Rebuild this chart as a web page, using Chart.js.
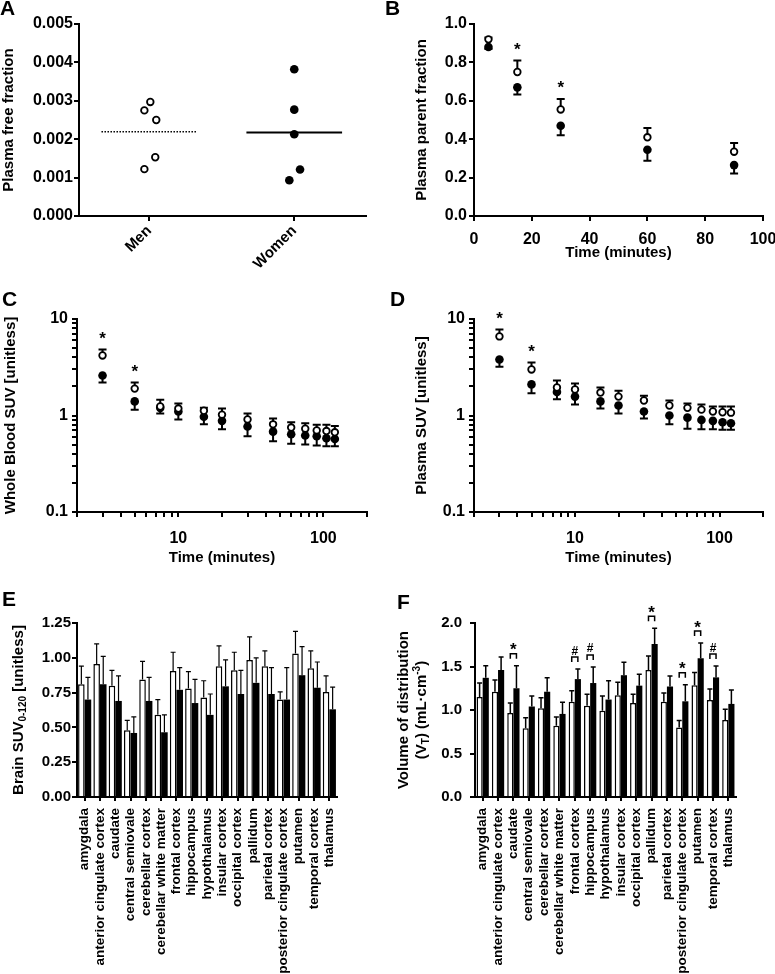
<!DOCTYPE html>
<html>
<head>
<meta charset="utf-8">
<script src="https://cdn.jsdelivr.net/npm/chart.js@4.4.1/dist/chart.umd.min.js"></script>
<style>
  html, body { margin: 0; padding: 0; background: #fff; overflow: hidden; }
  #fig { position: relative; width: 775px; height: 974px; }
  canvas { position: absolute; }
  .lbl { position: absolute; font: bold 21px "Liberation Sans", Arial, sans-serif; line-height: 1; }
</style>
</head>
<body>
<div id="fig">
  <canvas id="cA" width="385" height="300" style="left:0;top:0"></canvas>
  <canvas id="cB" width="390" height="300" style="left:385px;top:0"></canvas>
  <canvas id="cC" width="385" height="290" style="left:0;top:300px"></canvas>
  <canvas id="cD" width="390" height="290" style="left:385px;top:300px"></canvas>
  <canvas id="cE" width="385" height="384" style="left:0;top:590px"></canvas>
  <canvas id="cF" width="390" height="384" style="left:385px;top:590px"></canvas>
  <div class="lbl" style="left:0;top:-3px">A</div>
  <div class="lbl" style="left:385px;top:-3px">B</div>
  <div class="lbl" style="left:2px;top:288px">C</div>
  <div class="lbl" style="left:390px;top:288px">D</div>
  <div class="lbl" style="left:2px;top:588px">E</div>
  <div class="lbl" style="left:397px;top:591px">F</div>
</div>
<script>
// A: plasma free fraction
const groups = ['Men', 'Women'];
const freeFracMen = [0.00297, 0.00275, 0.00250, 0.00153, 0.00122];
const freeFracMenJitter = [0.007, -0.034, 0.048, 0.041, -0.034];
const freeFracWomen = [0.00382, 0.00277, 0.00213, 0.00121, 0.00093];
const freeFracWomenJitter = [0, 0, 0, 0.04, -0.034];
const freeFracTicks = ['0.000', '0.001', '0.002', '0.003', '0.004', '0.005'];

// B: plasma parent fraction
const parentTimes = [5, 15, 30, 60, 90];
const parentMen = [0.92, 0.75, 0.555, 0.41, 0.335];
const parentMenSD = [0.01, 0.06, 0.055, 0.048, 0.045];
const parentWomen = [0.88, 0.67, 0.47, 0.345, 0.265];
const parentWomenSD = [0.01, 0.037, 0.05, 0.057, 0.043];
const parentSig = ['', '*', '*', '', ''];
const parentYTicks = ['0.0', '0.2', '0.4', '0.6', '0.8', '1.0'];
const parentXTicks = ['0', '20', '40', '60', '80', '100'];

// C, D: SUV time courses
const suvTimes = [3, 5, 7.5, 10, 15, 20, 30, 45, 60, 75, 90, 105, 120];
const bloodMen = [4.19, 1.9, 1.24, 1.18, 1.12, 1.02, 0.91, 0.81, 0.75, 0.73, 0.70, 0.69, 0.67];
const bloodMenSD = [0.64, 0.30, 0.22, 0.15, 0.08, 0.16, 0.14, 0.12, 0.10, 0.10, 0.10, 0.11, 0.11];
const bloodWomen = [2.6, 1.4, 1.2, 1.1, 0.97, 0.88, 0.77, 0.68, 0.64, 0.62, 0.61, 0.58, 0.57];
const bloodWomenSD = [0.4, 0.25, 0.15, 0.19, 0.16, 0.16, 0.16, 0.14, 0.13, 0.12, 0.12, 0.10, 0.09];
const bloodSig = ['*', '*', '', '', '', '', '', '', '', '', '', '', ''];
const plasmaMen = [6.6, 3.0, 1.95, 1.86, 1.73, 1.57, 1.43, 1.27, 1.2, 1.15, 1.1, 1.08, 1.07];
const plasmaMenSD = [1.2, 0.55, 0.35, 0.29, 0.22, 0.23, 0.17, 0.16, 0.13, 0.15, 0.14, 0.16, 0.17];
const plasmaWomen = [3.8, 2.1, 1.75, 1.57, 1.4, 1.27, 1.1, 1.0, 0.95, 0.9, 0.88, 0.85, 0.83];
const plasmaWomenSD = [0.6, 0.4, 0.28, 0.27, 0.22, 0.22, 0.17, 0.19, 0.22, 0.18, 0.16, 0.14, 0.12];
const plasmaSig = ['*', '*', '', '', '', '', '', '', '', '', '', '', ''];
const suvYTicks = ['0.1', '1', '10'];
const suvXTicks = ['10', '100'];

// E, F: regional values
const regions = ['amygdala', 'anterior cingulate cortex', 'caudate', 'central semiovale',
  'cerebellar cortex', 'cerebellar white matter', 'frontal cortex', 'hippocampus',
  'hypothalamus', 'insular cortex', 'occipital cortex', 'pallidum', 'parietal cortex',
  'posterior cingulate cortex', 'putamen', 'temporal cortex', 'thalamus'];
const brainSuvMen = [0.81, 0.955, 0.80, 0.48, 0.845, 0.59, 0.905, 0.78, 0.715, 0.94, 0.91, 0.985, 0.94, 0.70, 1.03, 0.925, 0.755];
const brainSuvMenSD = [0.13, 0.145, 0.11, 0.07, 0.13, 0.11, 0.135, 0.12, 0.12, 0.145, 0.13, 0.165, 0.11, 0.055, 0.16, 0.125, 0.115];
const brainSuvWomen = [0.70, 0.81, 0.69, 0.46, 0.69, 0.465, 0.77, 0.675, 0.59, 0.795, 0.74, 0.82, 0.74, 0.70, 0.875, 0.785, 0.63];
const brainSuvWomenSD = [0.16, 0.20, 0.18, 0.115, 0.17, 0.125, 0.16, 0.17, 0.15, 0.19, 0.17, 0.18, 0.19, 0.23, 0.205, 0.185, 0.16];
const brainSuvTicks = ['0.00', '0.25', '0.50', '0.75', '1.00', '1.25'];
const vtMen = [1.15, 1.21, 0.965, 0.79, 1.02, 0.82, 1.095, 1.05, 0.99, 1.17, 1.08, 1.46, 1.095, 0.80, 1.285, 1.115, 0.885];
const vtMenSD = [0.16, 0.135, 0.115, 0.12, 0.12, 0.10, 0.125, 0.13, 0.17, 0.15, 0.10, 0.16, 0.10, 0.08, 0.145, 0.125, 0.125];
const vtWomen = [1.37, 1.46, 1.25, 1.04, 1.21, 0.955, 1.355, 1.31, 1.12, 1.40, 1.28, 1.76, 1.27, 1.10, 1.595, 1.375, 1.07];
const vtWomenSD = [0.14, 0.15, 0.26, 0.12, 0.16, 0.135, 0.115, 0.185, 0.215, 0.15, 0.13, 0.18, 0.12, 0.19, 0.175, 0.13, 0.16];
const vtSig = ['', '', '*', '', '', '', '#', '#', '', '', '', '*', '', '*', '*', '#', ''];
const vtTicks = ['0.0', '0.5', '1.0', '1.5', '2.0'];

const FONT = '"Liberation Sans", Arial, sans-serif';
const MEAN_HALF_WIDTH = 0.33;

Chart.defaults.font.family = FONT;
Chart.defaults.font.weight = 'bold';
Chart.defaults.color = '#000';
Chart.defaults.animation = false;
Chart.defaults.plugins.legend.display = false;
Chart.defaults.plugins.tooltip.enabled = false;

const openPoint = { pointRadius: 3.3, borderWidth: 1.8, backgroundColor: '#fff', borderColor: '#000', pointHoverRadius: 3.3 };
const filledPoint = { pointRadius: 4.3, borderWidth: 0, backgroundColor: '#000', borderColor: '#000', pointHoverRadius: 4.3 };

// pin ticks to given values, label only the ones in `labels`
function pinTicks(labels, values) {
  const major = labels.map(Number);
  const all = values || major;
  return {
    afterBuildTicks: (s) => { s.ticks = all.map((v) => ({ value: v })); },
    callback: (v) => {
      const k = major.findIndex((m) => Math.abs(m - v) < 1e-9 * Math.max(1, Math.abs(m)));
      return k >= 0 ? labels[k] : '';
    },
  };
}

function logValues(min, max) {
  const out = [];
  for (let e = Math.floor(Math.log10(min)); e <= Math.ceil(Math.log10(max)); e++) {
    for (let m = 1; m <= 9; m++) {
      const v = parseFloat((m * Math.pow(10, e)).toPrecision(6));
      if (v >= min - 1e-12 && v <= max + 1e-9) out.push(v);
    }
  }
  return out;
}

const fixW = (w) => (s) => { s.width = w; s.paddingTop = 0; s.paddingBottom = 0; };
const fixH = (h) => (s) => { s.height = h; s.paddingLeft = 0; s.paddingRight = 0; };

function axis(opts) {
  const pin = pinTicks(opts.labels, opts.values);
  const a = {
    type: opts.type || 'linear',
    min: opts.min,
    max: opts.max,
    afterFit: opts.width ? fixW(opts.width) : fixH(opts.height),
    afterBuildTicks: pin.afterBuildTicks,
    grid: { drawOnChartArea: false, color: '#000', lineWidth: 2, tickLength: opts.tickLength, offset: false },
    border: { color: '#000', width: 2 },
    ticks: { callback: pin.callback, autoSkip: false, padding: opts.padding, font: { size: opts.size || 15 }, maxRotation: 0 },
  };
  if (opts.title) {
    a.title = { display: true, text: opts.title, font: { size: 15 }, padding: opts.titlePad };
  }
  return a;
}

function errorBars({ under, lineWidth, capHalf }) {
  const draw = (chart) => {
    const { ctx } = chart;
    const yScale = chart.scales.y;
    ctx.save();
    ctx.strokeStyle = '#000';
    ctx.lineWidth = lineWidth;
    chart.data.datasets.forEach((ds, i) => {
      if (!ds.sd) return;
      chart.getDatasetMeta(i).data.forEach((el, j) => {
        const v = typeof ds.data[j] === 'object' ? ds.data[j].y : ds.data[j];
        const end = yScale.getPixelForValue(v + ds.errDir * ds.sd[j]);
        ctx.beginPath();
        ctx.moveTo(el.x, el.y);
        ctx.lineTo(el.x, end);
        ctx.moveTo(el.x - capHalf, end);
        ctx.lineTo(el.x + capHalf, end);
        ctx.stroke();
      });
    });
    ctx.restore();
  };
  return under ? { id: 'errorBars', beforeDatasetsDraw: draw } : { id: 'errorBars', afterDatasetsDraw: draw };
}

function drawMark(ctx, mark, x, cy) {
  const size = mark === '*' ? 17 : 12;
  ctx.font = `bold ${size}px ${FONT}`;
  const m = ctx.measureText(mark);
  ctx.textAlign = 'center';
  ctx.textBaseline = 'alphabetic';
  ctx.fillText(mark, x, cy + (m.actualBoundingBoxAscent - m.actualBoundingBoxDescent) / 2);
}

// significance above the upper (men) error bar
function pointMarks(marks) {
  return {
    id: 'pointMarks',
    afterDatasetsDraw(chart) {
      const { ctx } = chart;
      const ds = chart.data.datasets[0];
      const els = chart.getDatasetMeta(0).data;
      ctx.save();
      ctx.fillStyle = '#000';
      marks.forEach((mk, j) => {
        if (!mk) return;
        const top = chart.scales.y.getPixelForValue(ds.data[j].y + ds.sd[j]);
        drawMark(ctx, mk, els[j].x, top - 14);
      });
      ctx.restore();
    },
  };
}

// bracket between the two bars with a symbol on top
function bracketMarks(marks) {
  return {
    id: 'bracketMarks',
    afterDatasetsDraw(chart) {
      const { ctx } = chart;
      const y = chart.scales.y;
      const [d0, d1] = chart.data.datasets;
      const m0 = chart.getDatasetMeta(0).data;
      const m1 = chart.getDatasetMeta(1).data;
      ctx.save();
      ctx.strokeStyle = '#000';
      ctx.fillStyle = '#000';
      ctx.lineWidth = 1.5;
      marks.forEach((mk, j) => {
        if (!mk) return;
        const top = Math.min(y.getPixelForValue(d0.data[j] + d0.sd[j]), y.getPixelForValue(d1.data[j] + d1.sd[j]));
        const x0 = m0[j].x;
        const x1 = m1[j].x;
        ctx.beginPath();
        ctx.moveTo(x0, top - 7);
        ctx.lineTo(x0, top - 12);
        ctx.lineTo(x1, top - 12);
        ctx.lineTo(x1, top - 7);
        ctx.stroke();
        drawMark(ctx, mk, (x0 + x1) / 2, top - 19);
      });
      ctx.restore();
    },
  };
}

// rotated axis title with sub/superscripts
function sideTitle(lines, xs) {
  return {
    id: 'sideTitle',
    afterDraw(chart) {
      const { ctx, chartArea } = chart;
      const cy = (chartArea.top + chartArea.bottom) / 2;
      const fontOf = (r) => `bold ${r.sub || r.sup ? 10 : 15}px ${FONT}`;
      lines.forEach((runs, i) => {
        ctx.save();
        ctx.translate(xs[i], cy);
        ctx.rotate(-Math.PI / 2);
        ctx.fillStyle = '#000';
        ctx.textBaseline = 'middle';
        ctx.textAlign = 'left';
        let total = 0;
        runs.forEach((r) => { ctx.font = fontOf(r); total += ctx.measureText(r.t).width; });
        let x = -total / 2;
        runs.forEach((r) => {
          ctx.font = fontOf(r);
          ctx.fillText(r.t, x, r.sub ? 4 : r.sup ? -5 : 0);
          x += ctx.measureText(r.t).width;
        });
        ctx.restore();
      });
    },
  };
}

function meanLine(pos, values) {
  const mean = values.reduce((a, b) => a + b, 0) / values.length;
  return [{ x: pos - MEAN_HALF_WIDTH, y: mean }, { x: pos + MEAN_HALF_WIDTH, y: mean }];
}

// ---- A ----
const axA = axis({ width: 79, labels: freeFracTicks, min: 0, max: 0.005, tickLength: 5, padding: 1, size: 16,
  title: 'Plasma free fraction', titlePad: { top: 0, bottom: 0 } });
const axAx = axis({ height: 84, labels: ['1', '2'], min: 0.515, max: 2.495, tickLength: 5, padding: 1 });
axAx.ticks.callback = (v) => groups[v - 1] || '';
axAx.ticks.maxRotation = 45;
axAx.ticks.minRotation = 45;
new Chart(document.getElementById('cA'), {
  type: 'scatter',
  data: {
    datasets: [
      { data: freeFracMen.map((y, i) => ({ x: 1 + freeFracMenJitter[i], y })), ...openPoint },
      { data: freeFracWomen.map((y, i) => ({ x: 2 + freeFracWomenJitter[i], y })), ...filledPoint },
      { data: meanLine(1, freeFracMen), showLine: true, pointRadius: 0, borderColor: '#000', borderWidth: 1.5, borderDash: [1.5, 1.5] },
      { data: meanLine(2, freeFracWomen), showLine: true, pointRadius: 0, borderColor: '#000', borderWidth: 2 },
    ],
  },
  options: {
    responsive: false,
    layout: { padding: { left: 0, top: 24, right: 19, bottom: 0 } },
    scales: { x: axAx, y: axA },
  },
});

// ---- B ----
new Chart(document.getElementById('cB'), {
  type: 'scatter',
  data: {
    datasets: [
      { data: parentTimes.map((x, i) => ({ x, y: parentMen[i] })), sd: parentMenSD, errDir: 1, ...openPoint },
      { data: parentTimes.map((x, i) => ({ x, y: parentWomen[i] })), sd: parentWomenSD, errDir: -1, ...filledPoint },
    ],
  },
  options: {
    responsive: false,
    layout: { padding: { left: 0, top: 24, right: 12, bottom: 0 } },
    scales: {
      x: axis({ height: 84, labels: parentXTicks, min: 0, max: 100, tickLength: 5, padding: 9, size: 16,
        title: 'Time (minutes)', titlePad: { top: 0, bottom: 38 } }),
      y: axis({ width: 89, labels: parentYTicks, min: 0, max: 1, tickLength: 5, padding: 2, size: 16,
        title: 'Plasma parent fraction', titlePad: { top: 28, bottom: 0 } }),
    },
  },
  plugins: [errorBars({ under: true, lineWidth: 2, capHalf: 4 }), pointMarks(parentSig)],
});

// ---- C, D ----
function suvChart(id, men, menSD, women, womenSD, sig, yTitle, yWidth, yTitlePad, rightPad) {
  return new Chart(document.getElementById(id), {
    type: 'scatter',
    data: {
      datasets: [
        { data: suvTimes.map((x, i) => ({ x, y: men[i] })), sd: menSD, errDir: 1, ...openPoint },
        { data: suvTimes.map((x, i) => ({ x, y: women[i] })), sd: womenSD, errDir: -1, ...filledPoint },
      ],
    },
    options: {
      responsive: false,
      layout: { padding: { left: 0, top: 19, right: rightPad, bottom: 0 } },
      scales: {
        x: axis({ type: 'logarithmic', height: 78, labels: suvXTicks, values: logValues(2, 200), min: 2, max: 200,
          tickLength: 5, padding: 12, size: 16, title: 'Time (minutes)', titlePad: { top: 0, bottom: 23 } }),
        y: axis({ type: 'logarithmic', width: yWidth, labels: suvYTicks, values: logValues(0.1, 10), min: 0.1, max: 10,
          tickLength: 5, padding: 4, size: 16, title: yTitle, titlePad: { top: yTitlePad, bottom: 0 } }),
      },
    },
    plugins: [errorBars({ under: true, lineWidth: 2, capHalf: 4 }), pointMarks(sig)],
  });
}
suvChart('cC', bloodMen, bloodMenSD, bloodWomen, bloodWomenSD, bloodSig, 'Whole Blood SUV [unitless]', 77, 2, 18);
suvChart('cD', plasmaMen, plasmaMenSD, plasmaWomen, plasmaWomenSD, plasmaSig, 'Plasma SUV [unitless]', 89, 28, 12);

// ---- E, F ----
function regionChart(id, men, menSD, women, womenSD, yTicks, yMax, yWidth, yPad, rightPad, catPct, errWidth, extra) {
  const x = axis({ height: 177, labels: ['0'], tickLength: 4, padding: 7, size: 13.5 });
  x.type = 'category';
  delete x.afterBuildTicks;
  delete x.min;
  delete x.max;
  x.ticks.callback = (v, i) => regions[i];
  x.ticks.maxRotation = 90;
  x.ticks.minRotation = 90;
  return new Chart(document.getElementById(id), {
    type: 'bar',
    data: {
      labels: regions,
      datasets: [
        { data: men, sd: menSD, errDir: 1, backgroundColor: '#fff', borderColor: '#000', borderWidth: 1.5 },
        { data: women, sd: womenSD, errDir: 1, backgroundColor: '#000', borderColor: '#000', borderWidth: 0 },
      ],
    },
    options: {
      responsive: false,
      categoryPercentage: catPct,
      barPercentage: 1,
      layout: { padding: { left: 0, top: 33, right: rightPad, bottom: 0 } },
      scales: {
        x,
        y: axis({ width: yWidth, labels: yTicks, min: 0, max: yMax, tickLength: 5, padding: yPad, size: 15 }),
      },
    },
    plugins: [errorBars({ under: false, lineWidth: errWidth, capHalf: 2.5 })].concat(extra),
  });
}
regionChart('cE', brainSuvMen, brainSuvMenSD, brainSuvWomen, brainSuvWomenSD, brainSuvTicks, 1.25, 77, 1, 48, 0.86, 1.2,
  [sideTitle([[{ t: 'Brain SUV' }, { t: '0-120', sub: true }, { t: ' [unitless]' }]], [19])]);
regionChart('cF', vtMen, vtMenSD, vtWomen, vtWomenSD, vtTicks, 2, 90, 8, 39, 0.8, 1.5,
  [bracketMarks(vtSig),
   sideTitle([[{ t: 'Volume of distribution' }],
     [{ t: '(V' }, { t: 'T', sub: true }, { t: ') (mL\u00b7cm' }, { t: '-3', sup: true }, { t: ')' }]], [19, 37])]);
</script>
</body>
</html>
